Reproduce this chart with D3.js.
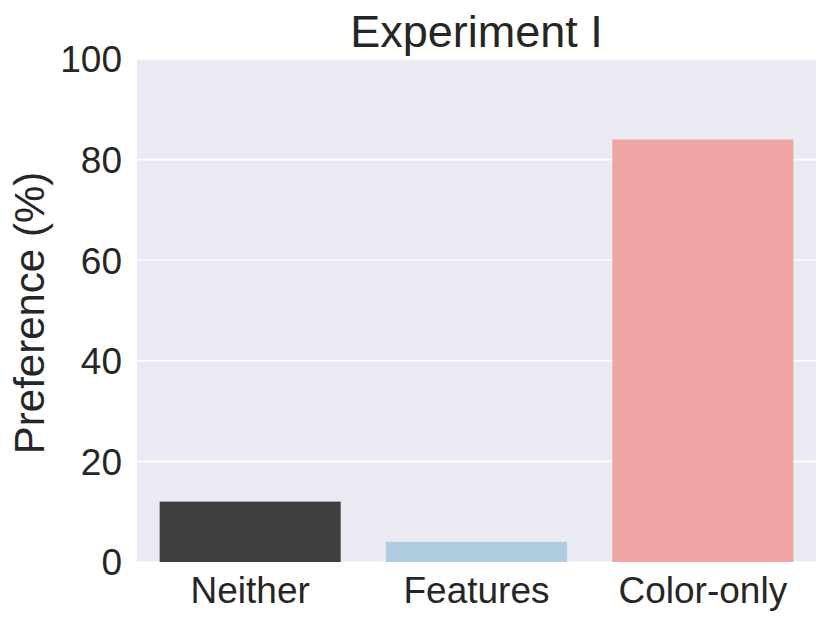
<!DOCTYPE html>
<html>
<head>
<meta charset="utf-8">
<script src="https://cdn.jsdelivr.net/npm/d3@7"></script>
<style>
  html, body { margin: 0; padding: 0; background: #ffffff; }
  svg { display: block; }
  text { font-family: "Liberation Sans", Arial, sans-serif; fill: #262626; }
</style>
</head>
<body>
<svg id="chart" width="830" height="626"></svg>
<script>
const categories = ["Neither", "Features", "Color-only"];
const preference = [12, 4, 84];
const yTicks = [0, 20, 40, 60, 80, 100];
const barColors = ["#3f3f3f", "#aecde0", "#f0a5a5"];
const titleText = "Experiment I";
const yLabelText = "Preference (%)";

const W = 830, H = 626;
const margin = { left: 137, right: 14, top: 59, bottom: 64 };
const svg = d3.select("#chart");
const plotW = W - margin.left - margin.right;
const plotH = H - margin.top - margin.bottom;

const x = d3.scaleBand().domain(categories).range([0, plotW]).paddingInner(0.2).paddingOuter(0.1);
const y = d3.scaleLinear().domain([0, 100]).range([plotH, 0]);

const g = svg.append("g").attr("transform", `translate(${margin.left},${margin.top})`);

g.append("rect").attr("x", 0).attr("y", 0).attr("width", plotW).attr("height", plotH).attr("fill", "#eaeaf2");

// grid
g.append("g").selectAll("line").data(yTicks).join("line")
  .attr("x1", 0).attr("x2", plotW)
  .attr("y1", d => y(d)).attr("y2", d => y(d))
  .attr("stroke", "#ffffff").attr("stroke-width", 1.6);

// bars
g.append("g").selectAll("rect").data(categories).join("rect")
  .attr("x", d => x(d))
  .attr("width", x.bandwidth())
  .attr("y", (d, i) => y(preference[i]))
  .attr("height", (d, i) => y(0) - y(preference[i]))
  .attr("fill", (d, i) => barColors[i]);

// y axis
const yAxis = g.append("g").call(d3.axisLeft(y).tickValues(yTicks).tickSize(0).tickPadding(15));
yAxis.select(".domain").remove();
yAxis.selectAll("text").style("font-size", "37px").attr("fill", "#262626").attr("dy", "0.35em");

// x axis
const xAxis = g.append("g").attr("transform", `translate(0,${plotH})`)
  .call(d3.axisBottom(x).tickSize(0).tickPadding(15));
xAxis.select(".domain").remove();
xAxis.selectAll("text").style("font-size", "37px").attr("fill", "#262626").attr("dy", "0.71em");

// title
svg.append("text").attr("x", margin.left + plotW / 2).attr("y", 47)
  .attr("text-anchor", "middle").style("font-size", "45px").text(titleText);

// y label
svg.append("text").attr("transform", `translate(44,313) rotate(-90)`)
  .attr("text-anchor", "middle").style("font-size", "42px").text(yLabelText);
</script>
</body>
</html>
